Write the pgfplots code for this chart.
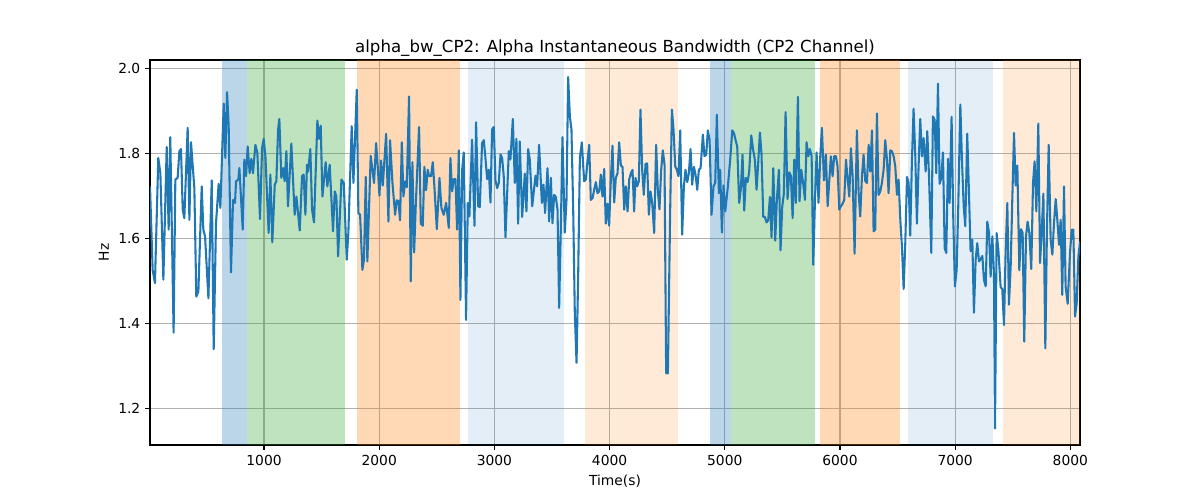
\documentclass[border=0pt]{standalone}
\usepackage{fontspec}
\setmainfont{DejaVu Sans}
\usepackage{pgfplots}
\pgfplotsset{compat=1.18}
\definecolor{tabblue}{HTML}{1F77B4}
\definecolor{taborange}{HTML}{FF7F0E}
\definecolor{tabgreen}{HTML}{2CA02C}
\definecolor{gridgray}{HTML}{B0B0B0}
\pgfplotstableread{
x y
10 1.723
33 1.526
53 1.495
82 1.790
100 1.754
126 1.503
155 1.816
172 1.621
186 1.839
215 1.378
230 1.739
250 1.743
265 1.806
279 1.811
294 1.668
308 1.648
337 1.861
352 1.644
366 1.827
395 1.719
412 1.463
430 1.475
459 1.723
473 1.621
488 1.605
517 1.459
546 1.737
563 1.339
583 1.636
606 1.729
621 1.672
650 1.918
664 1.790
679 1.945
693 1.865
713 1.520
731 1.691
748 1.684
757 1.735
777 1.739
786 1.766
815 1.621
829 1.786
844 1.747
858 1.817
875 1.754
890 1.788
904 1.754
925 1.821
942 1.802
965 1.646
983 1.813
997 1.835
1012 1.794
1040 1.613
1055 1.751
1072 1.591
1093 1.727
1107 1.735
1122 1.857
1133 1.882
1150 1.743
1165 1.766
1179 1.735
1194 1.806
1208 1.676
1237 1.824
1266 1.656
1281 1.699
1310 1.619
1330 1.747
1344 1.751
1359 1.656
1373 1.774
1382 1.758
1402 1.811
1417 1.668
1434 1.638
1463 1.878
1478 1.835
1492 1.866
1507 1.699
1535 1.780
1550 1.723
1570 1.774
1599 1.617
1614 1.711
1628 1.699
1643 1.558
1672 1.739
1692 1.731
1718 1.550
1732 1.613
1761 1.865
1776 1.731
1805 1.951
1819 1.660
1834 1.656
1854 1.526
1868 1.551
1883 1.745
1897 1.546
1926 1.795
1941 1.762
1955 1.731
1973 1.825
1987 1.770
2002 1.701
2016 1.784
2031 1.725
2060 1.847
2080 1.640
2094 1.832
2115 1.731
2138 1.656
2152 1.690
2167 1.688
2181 1.643
2196 1.827
2210 1.699
2225 1.735
2239 1.721
2259 1.935
2274 1.499
2288 1.780
2303 1.567
2317 1.676
2346 1.863
2361 1.635
2378 1.630
2392 1.769
2407 1.714
2421 1.762
2433 1.747
2450 1.747
2465 1.780
2479 1.723
2500 1.622
2523 1.743
2540 1.672
2560 1.656
2581 1.684
2604 1.625
2618 1.790
2633 1.711
2647 1.740
2662 1.740
2676 1.621
2691 1.808
2705 1.455
2720 1.762
2734 1.803
2754 1.408
2769 1.684
2783 1.652
2806 1.833
2827 1.630
2841 1.874
2859 1.676
2873 1.674
2893 1.825
2908 1.832
2922 1.790
2937 1.740
2951 1.762
2966 1.685
2980 1.857
2995 1.863
3009 1.737
3024 1.719
3038 1.731
3053 1.798
3067 1.790
3081 1.747
3096 1.603
3125 1.806
3139 1.786
3160 1.882
3177 1.731
3191 1.835
3206 1.635
3220 1.829
3241 1.651
3264 1.753
3278 1.664
3293 1.811
3307 1.786
3328 1.676
3342 1.711
3357 1.748
3371 1.723
3388 1.821
3412 1.684
3426 1.727
3440 1.660
3461 1.766
3475 1.640
3490 1.743
3504 1.636
3519 1.703
3533 1.698
3548 1.668
3562 1.436
3577 1.629
3591 1.839
3611 1.614
3626 1.691
3640 1.981
3655 1.888
3669 1.857
3684 1.668
3698 1.424
3713 1.307
3727 1.510
3742 1.790
3759 1.827
3779 1.735
3794 1.739
3808 1.782
3823 1.821
3837 1.691
3852 1.695
3866 1.715
3881 1.733
3895 1.707
3910 1.711
3924 1.751
3938 1.699
3953 1.764
3967 1.635
3982 1.682
3996 1.630
4011 1.739
4025 1.819
4040 1.685
4054 1.743
4069 1.754
4083 1.827
4098 1.772
4112 1.769
4127 1.668
4141 1.723
4156 1.664
4170 1.739
4185 1.754
4199 1.762
4213 1.664
4225 1.743
4239 1.723
4254 1.735
4268 1.904
4283 1.762
4297 1.703
4312 1.776
4326 1.777
4341 1.656
4355 1.711
4370 1.684
4387 1.613
4404 1.821
4419 1.711
4433 1.669
4448 1.762
4462 1.808
4477 1.774
4491 1.282
4506 1.282
4526 1.668
4541 1.904
4555 1.857
4570 1.770
4584 1.762
4598 1.747
4613 1.855
4630 1.609
4645 1.723
4659 1.762
4674 1.733
4688 1.754
4703 1.811
4717 1.727
4732 1.769
4746 1.751
4761 1.715
4775 1.762
4790 1.766
4810 1.845
4824 1.794
4839 1.798
4853 1.855
4868 1.833
4885 1.656
4902 1.723
4917 1.731
4931 1.892
4949 1.707
4960 1.762
4975 1.614
4989 1.725
5004 1.664
5027 1.723
5047 1.786
5065 1.855
5079 1.849
5093 1.833
5108 1.817
5125 1.684
5140 1.719
5154 1.798
5169 1.666
5183 1.743
5198 1.733
5212 1.758
5230 1.843
5247 1.808
5261 1.786
5276 1.715
5290 1.778
5305 1.850
5319 1.798
5334 1.651
5348 1.651
5363 1.638
5377 1.643
5392 1.698
5406 1.603
5421 1.766
5438 1.595
5452 1.691
5470 1.762
5484 1.572
5499 1.676
5513 1.706
5528 1.898
5545 1.693
5560 1.756
5574 1.748
5589 1.648
5603 1.786
5617 1.684
5635 1.934
5649 1.688
5664 1.762
5681 1.729
5696 1.691
5710 1.827
5725 1.794
5739 1.811
5754 1.794
5768 1.538
5783 1.691
5797 1.803
5814 1.684
5829 1.794
5843 1.861
5861 1.737
5878 1.798
5893 1.676
5921 1.794
5936 1.747
5950 1.794
5965 1.794
5979 1.770
5994 1.668
6008 1.676
6023 1.682
6037 1.691
6052 1.786
6066 1.743
6081 1.699
6095 1.813
6110 1.747
6127 1.564
6147 1.855
6162 1.707
6176 1.652
6191 1.747
6205 1.798
6220 1.735
6234 1.731
6249 1.821
6263 1.758
6278 1.855
6292 1.617
6306 1.621
6321 1.895
6335 1.703
6350 1.711
6364 1.731
6379 1.762
6393 1.832
6408 1.786
6422 1.707
6437 1.808
6451 1.806
6466 1.794
6480 1.770
6495 1.703
6509 1.739
6524 1.644
6538 1.581
6553 1.481
6567 1.589
6582 1.745
6596 1.731
6610 1.607
6625 1.786
6639 1.906
6654 1.794
6668 1.635
6683 1.774
6697 1.882
6712 1.794
6726 1.837
6744 1.758
6758 1.853
6773 1.747
6793 1.566
6807 1.888
6822 1.880
6836 1.754
6851 1.965
6865 1.729
6880 1.743
6894 1.803
6909 1.577
6923 1.566
6938 1.788
6952 1.684
6969 1.887
6984 1.644
6998 1.487
7013 1.526
7027 1.676
7045 1.916
7059 1.786
7074 1.676
7088 1.629
7105 1.847
7120 1.707
7134 1.570
7149 1.597
7163 1.425
7178 1.550
7192 1.589
7207 1.546
7221 1.551
7236 1.559
7250 1.503
7265 1.487
7279 1.640
7294 1.613
7308 1.510
7323 1.605
7337 1.518
7346 1.152
7360 1.613
7375 1.574
7395 1.485
7409 1.481
7424 1.396
7438 1.567
7453 1.684
7467 1.444
7482 1.534
7496 1.691
7511 1.849
7525 1.725
7540 1.772
7557 1.525
7572 1.622
7586 1.613
7600 1.357
7615 1.605
7629 1.640
7644 1.613
7661 1.528
7676 1.731
7690 1.782
7705 1.664
7722 1.871
7737 1.542
7751 1.613
7766 1.706
7783 1.341
7797 1.622
7812 1.821
7829 1.597
7844 1.562
7858 1.636
7873 1.693
7887 1.644
7902 1.585
7916 1.644
7930 1.467
7945 1.723
7959 1.487
7977 1.446
7997 1.566
8012 1.621
8026 1.621
8041 1.416
8055 1.448
8070 1.558
8084 1.593
}\signal
\begin{document}
\begin{tikzpicture}
\path[use as bounding box] (0,0) rectangle (12in,5in);
\begin{axis}[
  at={(1.5in,0.55in)}, anchor=south west,
  scale only axis, width=9.3in, height=3.85in,
  xmin=10, xmax=8084, ymin=1.113, ymax=2.021,
  xtick={1000,2000,3000,4000,5000,6000,7000,8000},
  ytick={1.2,1.4,1.6,1.8,2.0},
  xtick pos=bottom, ytick pos=left,
  grid=major,
  grid style={color=gridgray, line width=0.8pt},
  axis line style={line width=0.8pt},
  tick style={black, line width=0.8pt},
  tick align=outside,
  major tick length=3.5pt,
  xticklabel style={font=\fontsize{10}{12}\selectfont},
  yticklabel style={font=\fontsize{10}{12}\selectfont},
  x tick label style={/pgf/number format/.cd, 1000 sep={}, assume math mode=true},
  y tick label style={/pgf/number format/.cd, fixed, fixed zerofill, precision=1, assume math mode=true},
  title={alpha\_bw\_CP2: Alpha Instantaneous Bandwidth (CP2 Channel)},
  title style={font=\fontsize{12}{14}\selectfont, yshift=-6.7pt},
  xlabel={Time(s)},
  xlabel style={font=\fontsize{10}{12}\selectfont},
  ylabel={Hz},
  ylabel style={font=\fontsize{10}{12}\selectfont},
]
\addplot[fill=tabblue, fill opacity=0.3, draw=none] coordinates {(632,1.113) (632,2.021) (849,2.021) (849,1.113)};
\addplot[fill=tabgreen, fill opacity=0.3, draw=none] coordinates {(849,1.113) (849,2.021) (1700,2.021) (1700,1.113)};
\addplot[fill=taborange, fill opacity=0.3, draw=none] coordinates {(1805,1.113) (1805,2.021) (2699,2.021) (2699,1.113)};
\addplot[fill=tabblue, fill opacity=0.12, draw=none] coordinates {(2769,1.113) (2769,2.021) (3602,2.021) (3602,1.113)};
\addplot[fill=taborange, fill opacity=0.16, draw=none] coordinates {(3785,1.113) (3785,2.021) (4592,2.021) (4592,1.113)};
\addplot[fill=tabblue, fill opacity=0.3, draw=none] coordinates {(4868,1.113) (4868,2.021) (5053,2.021) (5053,1.113)};
\addplot[fill=tabgreen, fill opacity=0.3, draw=none] coordinates {(5053,1.113) (5053,2.021) (5783,2.021) (5783,1.113)};
\addplot[fill=taborange, fill opacity=0.3, draw=none] coordinates {(5826,1.113) (5826,2.021) (6520,2.021) (6520,1.113)};
\addplot[fill=tabblue, fill opacity=0.12, draw=none] coordinates {(6590,1.113) (6590,2.021) (7330,2.021) (7330,1.113)};
\addplot[fill=taborange, fill opacity=0.16, draw=none] coordinates {(7416,1.113) (7416,2.021) (8084,2.021) (8084,1.113)};
\addplot[tabblue, line width=1.5pt, line join=round, mark=none] table[x=x, y=y] {\signal};
\end{axis}
\end{tikzpicture}
\end{document}
